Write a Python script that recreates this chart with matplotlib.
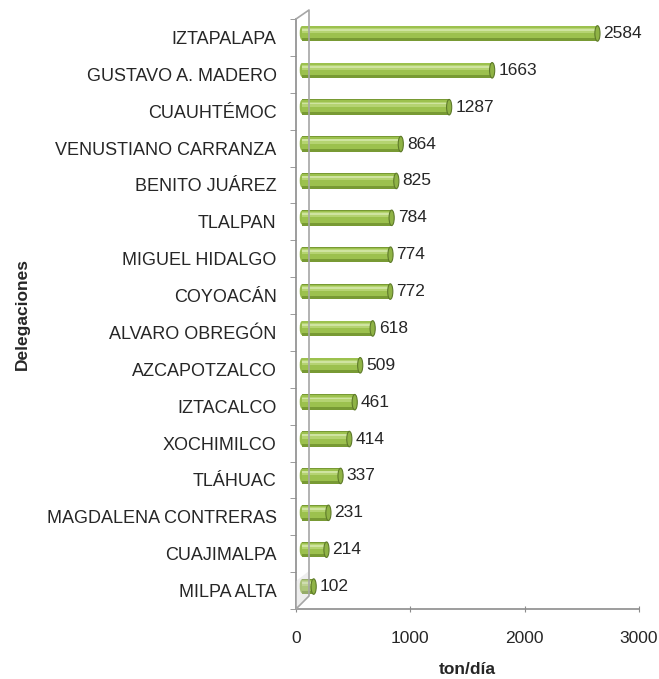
import numpy as np
import matplotlib.pyplot as plt
from matplotlib.transforms import ScaledTranslation
from matplotlib.patches import Ellipse, Polygon
from matplotlib.lines import Line2D

# datos: generación de residuos por delegación
delegaciones = ['IZTAPALAPA', 'GUSTAVO A. MADERO', 'CUAUHTÉMOC', 'VENUSTIANO CARRANZA',
                'BENITO JUÁREZ', 'TLALPAN', 'MIGUEL HIDALGO', 'COYOACÁN',
                'ALVARO OBREGÓN', 'AZCAPOTZALCO', 'IZTACALCO', 'XOCHIMILCO',
                'TLÁHUAC', 'MAGDALENA CONTRERAS', 'CUAJIMALPA', 'MILPA ALTA']
ton_dia = [2584, 1663, 1287, 864, 825, 784, 774, 772, 618, 509, 461, 414, 337, 231, 214, 102]
x_ticks = [0, 1000, 2000, 3000]

plt.rcParams['font.family'] = ['Liberation Sans', 'DejaVu Sans']

fig = plt.figure(figsize=(6.59, 6.79), dpi=100)
ax = fig.add_axes([296/659, 70/679, 343/659, 590/679])

y = np.arange(len(delegaciones))
gray = '#8c8c8c'
txt = '#262626'

# pequeño desplazamiento para imitar el efecto 3D
shift = ax.transData + ScaledTranslation(6/100, 4/100, fig.dpi_scale_trans)

# sombra en el piso junto a la barra más corta
x0, y0 = ax.transAxes.transform((0, 0))
fig.add_artist(Polygon([[x0, y0], [x0 + 13, y0 + 13], [x0 + 13, y0 + 38], [x0, y0 + 28]],
                       closed=True, transform=None, facecolor='#d0d0d0', edgecolor='none',
                       alpha=0.35))

# cilindros: capa oscura, capa media y brillo
h = 0.42
for yi, v in zip(y, ton_dia):
    ax.add_patch(Ellipse((0, yi - 0.01), width=40, height=h - 0.04, facecolor='#97bc4a',
                         edgecolor='none', transform=shift, zorder=3))
ax.barh(y, ton_dia, height=h, color='#789a34', transform=shift, zorder=3)
ax.barh(y - 0.03, ton_dia, height=0.32, color='#9cc14e', transform=shift, zorder=3)
ax.barh(y - 0.08, ton_dia, height=0.13, color='#b5d372', transform=shift, zorder=3)
ax.barh(y - 0.10, ton_dia, height=0.05, color='#cfe4a0', transform=shift, zorder=3)
for yi, v in zip(y, ton_dia):
    ax.add_patch(Ellipse((v, yi), width=45, height=h, facecolor='#8fb345',
                         edgecolor='#5e7a2a', linewidth=0.8, transform=shift, zorder=4))
    ax.annotate(str(v), (v, yi), xycoords=shift, xytext=(6, 0), textcoords='offset pixels',
                ha='left', va='center', fontsize=12.5, color=txt, zorder=5)

ax.set_xlim(0, 3000)
ax.set_ylim(len(delegaciones) - 0.5, -0.5)

ax.set_xticks(x_ticks)
ax.set_yticks(y)
ax.set_yticklabels(delegaciones)
ax.set_yticks(np.arange(len(delegaciones) + 1) - 0.5, minor=True)
ax.tick_params(axis='y', which='major', length=0, pad=14, labelsize=13, labelcolor=txt)
ax.tick_params(axis='y', which='minor', length=4, color=gray, direction='out')
ax.tick_params(axis='x', length=5, direction='inout', color=gray, pad=13,
               labelsize=12.5, labelcolor=txt)

for s in ['top', 'right']:
    ax.spines[s].set_visible(False)
for s in ['left', 'bottom']:
    ax.spines[s].set_color(gray)
    ax.spines[s].set_linewidth(1.2)

# pared del fondo
x1, y1 = ax.transAxes.transform((0, 1))
d = 13
fig.add_artist(Line2D([x0, x0 + d, x1 + d, x1], [y0, y0 + d, y1 + 9, y1],
                      transform=None, color='#a6a6a6', linewidth=1.2))

ax.set_xlabel('ton/día', fontsize=12.5, fontweight='bold', labelpad=12, color=txt)
ax.set_ylabel('Delegaciones', fontsize=12.5, fontweight='bold', color=txt)
ax.yaxis.set_label_coords(-0.777, 0.5)

fig.savefig('out.png', dpi=100)
